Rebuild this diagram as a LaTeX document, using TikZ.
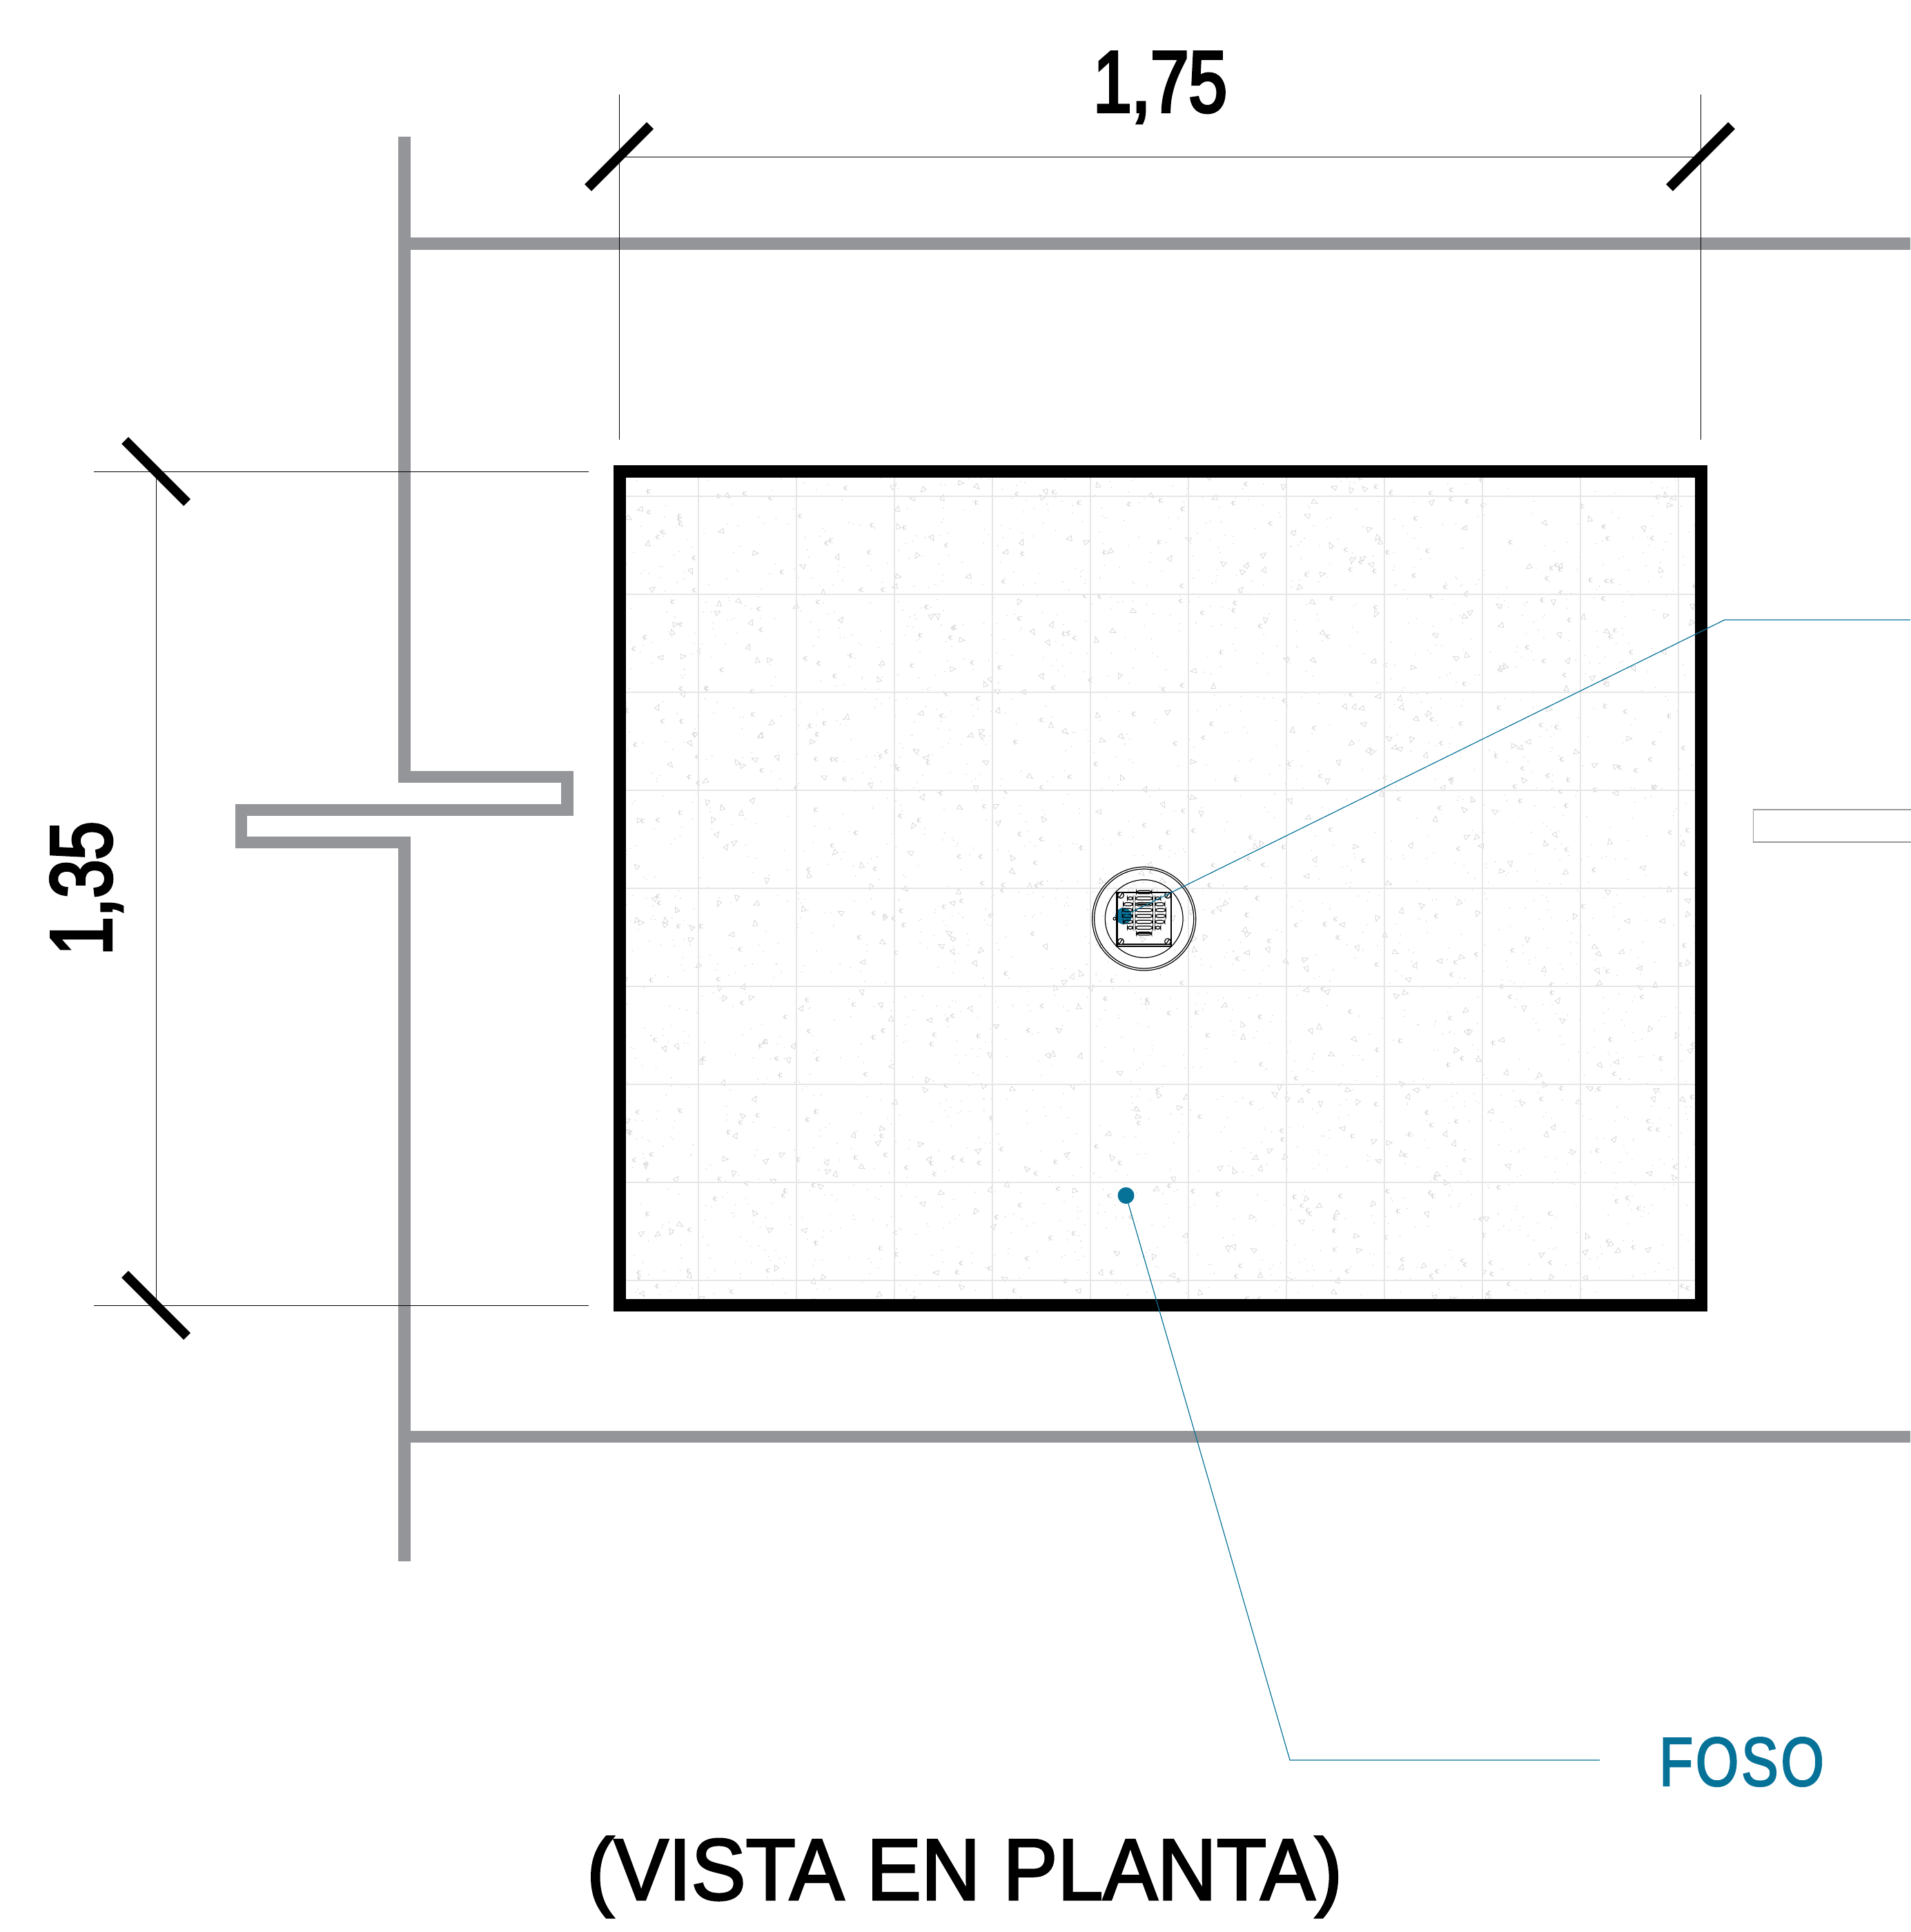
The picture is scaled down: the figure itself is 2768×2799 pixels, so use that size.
\documentclass[tikz,border=0pt]{standalone}
\usepackage{fontspec}
\newfontfamily\titlefont[FakeStretch=0.94,FakeBold=2.4]{Liberation Sans}
\newfontfamily\dimfont[FakeStretch=0.79,FakeBold=3.4]{Liberation Sans}
\newfontfamily\labelfont[FakeStretch=0.8,FakeBold=2.4,LetterSpace=4]{Liberation Sans}
\definecolor{wallgray}{HTML}{939598}
\definecolor{footeal}{HTML}{067298}
\definecolor{tilegray}{HTML}{E6E6E6}
\definecolor{specgray}{HTML}{D6D6D6}

\tikzstyle{wall}=[draw=wallgray,line width=8.75pt,miter limit=10]
\tikzstyle{frame}=[draw=black,line width=9pt]
\tikzstyle{tile}=[draw=tilegray,line width=0.75pt]
\tikzstyle{spec}=[draw=specgray,line width=0.4pt]
\tikzstyle{dimline}=[draw=black,line width=0.45pt]
\tikzstyle{tick}=[draw=black,line width=7pt]
\tikzstyle{leader}=[draw=footeal,line width=0.6pt]
\tikzstyle{tealdot}=[circle,fill=footeal,minimum size=12pt,inner sep=0pt]
\tikzstyle{drain}=[draw=black,line width=0.6pt]
\tikzstyle{dimtext}=[anchor=base,inner sep=0pt,font=\dimfont\fontsize{63pt}{63pt}\selectfont]
\tikzstyle{titletext}=[anchor=base,inner sep=0pt,font=\titlefont\fontsize{63pt}{63pt}\selectfont]
\tikzstyle{labeltext}=[anchor=base,inner sep=0pt,text=footeal,font=\labelfont\fontsize{50pt}{50pt}\selectfont]

\begin{document}
\begin{tikzpicture}[x=0.5pt,y=-0.5pt]
        \useasboundingbox (0,0) rectangle (2768,2799);
        % floor finish
        \begin{scope}
        \clip (897,683) rectangle (2464,1891);
        \pgfmathsetseed{41}
        \foreach \i in {1,...,2600}{
            \pgfmathsetmacro{\px}{897+1567*rnd}
            \pgfmathsetmacro{\py}{683+1208*rnd}
            \fill[specgray] (\px,\py) circle (0.45pt);
        }
        \foreach \i in {1,...,560}{
            \pgfmathsetmacro{\px}{897+1567*rnd}
            \pgfmathsetmacro{\py}{683+1208*rnd}
            \pgfmathsetmacro{\pa}{360*rnd}
            \draw[spec,rotate around={\pa:(\px,\py)}] (\px-3,\py+3) -- (\px+4,\py+3) -- (\px,\py-5) -- cycle;
        }
        \foreach \i in {1,...,480}{
            \pgfmathsetmacro{\px}{897+1567*rnd}
            \pgfmathsetmacro{\py}{683+1208*rnd}
            \draw[spec] (\px+3,\py-3) -- (\px-3,\py) -- (\px+3,\py+3) (\px-1,\py-4) -- (\px-1,\py+4);
        }
        \foreach \xa in {1012,1154,...,2433}
            \draw[tile] (\xa,683) -- (\xa,1891);
        \foreach \ya in {719,861,...,1856}
            \draw[tile] (897,\ya) -- (2464,\ya);
        \end{scope}
        %
        \path[wall] (586,198) -- (586,1125.5) -- (822,1125.5) -- (822,1173.5) -- (349.5,1173.5) -- (349.5,1220.5) -- (586,1220.5) -- (586,2262);
        \path[wall] (586,353) -- (2768,353);
        \path[wall] (586,2081.5) -- (2768,2081.5);
        \draw[draw=black!40,line width=0.75pt] (2790,1173) -- (2540.5,1173) -- (2540.5,1220) -- (2790,1220);
        %
        \path[frame] (897.5,683) rectangle (2464.5,1891);
        % drain
        \node[tealdot] (draindot) at (1628,1327) {};
        \draw[drain] (1657.7,1331) circle (37.5pt);
        \draw[drain] (1657.7,1331) circle (36pt);
        \draw[drain] (1657.7,1331) circle (28.2pt);
        \draw[draw=black,line width=1.4pt] (1618.5,1293) rectangle (1697,1371);
        \draw[drain] (1618,1368) -- (1697,1368);
        \draw[drain] (1615,1331) circle (1pt);
        \foreach \sx/\sy in {1624/1297,1692/1297,1624/1364,1692/1364}{
            \draw[drain,fill=white] (\sx,\sy) circle (2.2pt);
            \draw[drain] (\sx-2,\sy+3) -- (\sx+2,\sy-3);
        }
        \foreach \sy/\sw in {-39.5/22,-30.5/25,-22/25,-13.5/25,-5/25,3.5/25,12/25,20.5/22}
            \draw[drain,rounded corners=2pt] (1657.7-\sw/2,1332+\sy-2.3) rectangle (1657.7+\sw/2,1332+\sy+2.3);
        \foreach \sy/\sw/\sc in {-30.5/8/-20,-22/14/-23,-13.5/15/-24,-5/15/-24,3.5/14/-23,12/8/-20}{
            \draw[drain,rounded corners=2pt] (1657.7+\sc-\sw/2,1332+\sy-2.3) rectangle (1657.7+\sc+\sw/2,1332+\sy+2.3);
            \draw[drain,rounded corners=2pt] (1657.7-\sc-\sw/2,1332+\sy-2.3) rectangle (1657.7-\sc+\sw/2,1332+\sy+2.3);
        }
        \draw[drain] (1648,1310) -- (1667,1310) (1648,1352) -- (1667,1352);
        %
        \coordinate (drainbend) at (2499,898);
        \coordinate (drainend) at (2768,898);
        \draw[leader] (draindot.center) -- (drainbend) -- (drainend);
        \node[tealdot] (fosodot) at (1631.5,1732) {};
        \coordinate (fosobend) at (1869,2550);
        \coordinate (fosoend) at (2318,2550);
        \draw[leader] (fosodot.center) -- (fosobend) -- (fosoend);
        \node[labeltext] (foso) at (2523.5,2587) {FOSO};
        % dimensions
        \coordinate (wa) at (897,137);
        \coordinate (wb) at (897,637);
        \coordinate (wc) at (2464,137);
        \coordinate (wd) at (2464,637);
        \coordinate (we) at (897,227);
        \coordinate (wf) at (2464,227);
        \coordinate (ha) at (136,683);
        \coordinate (hb) at (853,683);
        \coordinate (hc) at (136,1891);
        \coordinate (hd) at (853,1891);
        \coordinate (he) at (226,683);
        \coordinate (hf) at (226,1891);
        \path[dimline] (wa) -- (wb) (wc) -- (wd) (we) -- (wf);
        \path[dimline] (ha) -- (hb) (hc) -- (hd) (he) -- (hf);
        \path[tick] ([shift={(-45,45)}]we) -- ([shift={(45,-45)}]we);
        \path[tick] ([shift={(-45,45)}]wf) -- ([shift={(45,-45)}]wf);
        \path[tick] ([shift={(-45,-45)}]he) -- ([shift={(45,45)}]he);
        \path[tick] ([shift={(-45,-45)}]hf) -- ([shift={(45,45)}]hf);
        \node[dimtext] (widthtext) at (1681,162) {1,75};
        \node[dimtext,rotate=90] (depthtext) at (161,1287) {1,35};
        \node[titletext] (title) at (1397.5,2752) {(VISTA EN PLANTA)};
\end{tikzpicture}
\end{document}
